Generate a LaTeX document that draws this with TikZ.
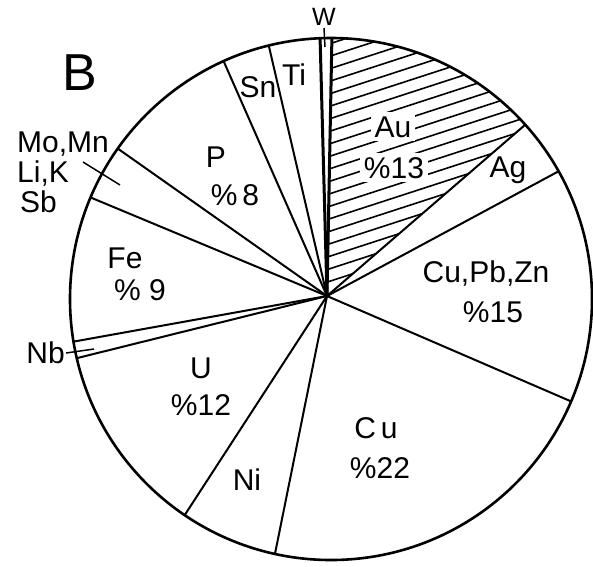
\documentclass[tikz,border=0pt]{standalone}
\usepackage{fontspec}
\setmainfont{Liberation Sans}
\usetikzlibrary{calc}
\begin{document}
\begin{tikzpicture}[x=1pt,y=-1pt,
  lbl/.style={font=\fontsize{30}{30}\selectfont, inner sep=0pt, anchor=base},
  big/.style={font=\fontsize{52}{52}\selectfont, inner sep=0pt, anchor=base},
  wlbl/.style={font=\fontsize{25}{25}\selectfont, inner sep=0pt, anchor=base},
  blank/.style={fill=white, inner sep=4pt},
  rad/.style={line width=2pt},
  radthick/.style={line width=3pt},
  rim/.style={line width=2.6pt},
  lead/.style={line width=1.5pt},
  hatch/.style={line width=1.6pt}]
\useasboundingbox (0,0) rectangle (593,566);
\def\R{261}
\coordinate (C) at (331,299);
\coordinate (H) at (327,296);
\foreach \n/\a in {auag/-41.9, agcz/-29.3, czcu/23.1, cuni/102.4, niu/124.1,
                   unb/166.9, nbfe/170.6, femo/202.9, mop/215.2, psn/245.7,
                   snti/256.2, tiw/267.6, wau/270.2}
  \coordinate (\n) at ($(C)+(\a:\R)$);
% hatching of Au sector
\begin{scope}
  \clip (H) -- (wau) arc[start angle=270.2, end angle=318.1, radius=\R] -- cycle;
  \foreach \k in {0,...,21}
    \draw[hatch] (320,{42+12.5*\k+4.9}) -- (560,{42+12.5*\k-73.1});
\end{scope}
% sector boundaries
\foreach \n in {auag, agcz, czcu, cuni, niu, unb, nbfe, femo, mop, psn, snti}
  \draw[rad] (H) -- (\n);
\draw[radthick] (H) -- (tiw);
\draw[radthick] (H) -- (wau);
\draw[rim] (C) circle[radius=\R];
% leader lines
\coordinate (wt1) at (324,28); \coordinate (wt2) at (325,47);
\draw[lead] (wt1) -- (wt2);
\coordinate (mo1) at (83,162); \coordinate (mo2) at (120,185);
\draw[lead] (mo1) -- (mo2);
\coordinate (nb1) at (66,353); \coordinate (nb2) at (94,349);
\draw[lead] (nb1) -- (nb2);
% labels
\node[big] (B) at (80,90) {B};
\node[wlbl] (W) at (324,25) {W};
\node[lbl] (Sn) at (258,97) {Sn};
\node[lbl] (Ti) at (294,85) {Ti};
\node[lbl,blank,anchor=base] (Au) at (393,137) {Au};
\node[lbl,blank,anchor=base] (Au2) at (394,178) {\%13};
\node[lbl] (Ag) at (508,177) {Ag};
\node[lbl] (CPZ) at (486,282) {Cu,Pb,Zn};
\node[lbl] (CPZ2) at (493,322) {\%15};
\node[lbl] (Cu) at (376,438) {C\,u};
\node[lbl] (Cu2) at (380,478) {\%22};
\node[lbl] (Ni) at (247,490) {Ni};
\node[lbl] (U) at (201,378) {U};
\node[lbl] (U2) at (201,415) {\%12};
\node[lbl,anchor=base east] (Nb) at (65,363) {Nb};
\node[lbl] (Fe) at (125,268) {Fe};
\node[lbl] (Fe2) at (140,300) {\% 9};
\node[lbl] (P) at (216,167) {P};
\node[lbl] (P2) at (235,205) {\%\,8};
\node[lbl,anchor=base west] (Mo) at (17,152) {Mo,Mn};
\node[lbl,anchor=base west] (Li) at (17,182) {Li,K};
\node[lbl,anchor=base west] (Sb) at (20,212) {Sb};
\end{tikzpicture}
\end{document}
